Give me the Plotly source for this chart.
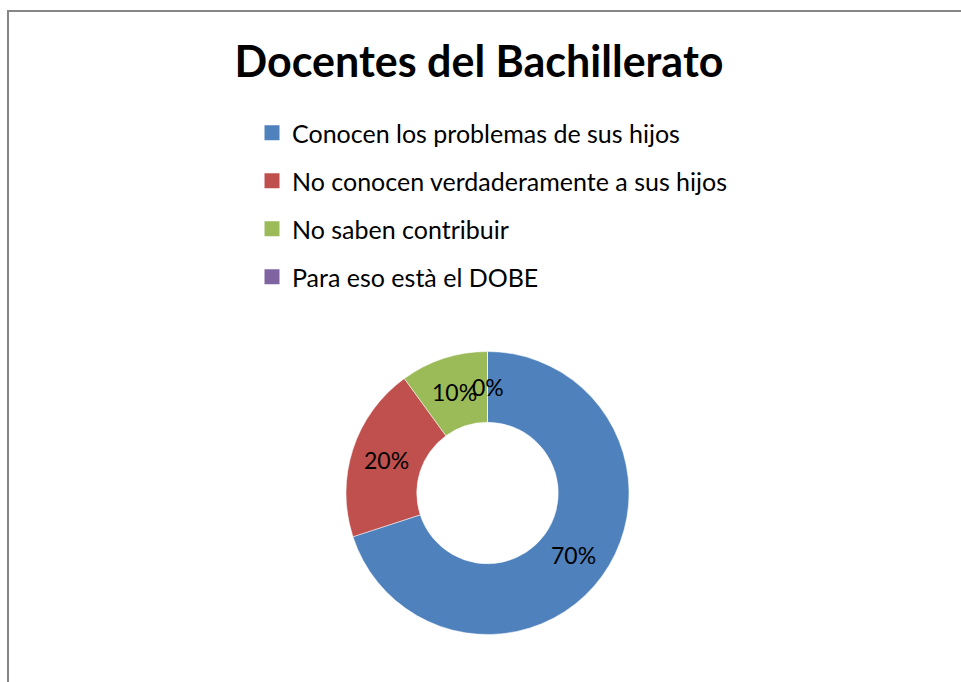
import math
import plotly.graph_objects as go

categories = [
    "Conocen los problemas de sus hijos",
    "No conocen verdaderamente a sus hijos",
    "No saben contribuir",
    "Para eso està el DOBE",
]
values = [70, 20, 10, 0]
colors = ["#4F81BD", "#C0504D", "#9BBB59", "#8064A2"]
title_text = "Docentes del Bachillerato"

W, H = 961, 682
CX, CY, R = 487.5, 493.0, 141.5  # pixel geometry of the donut
HOLE = 0.5
FONT = "Lato, 'Open Sans', sans-serif"

fig = go.Figure()

fig.add_trace(go.Pie(
    labels=categories,
    values=values,
    marker=dict(colors=colors, line=dict(color="white", width=0.5)),
    hole=HOLE,
    sort=False,
    direction="clockwise",
    rotation=0,
    textinfo="none",
    hoverinfo="label+percent",
    showlegend=False,
    domain=dict(x=[(CX - R) / W, (CX + R) / W],
                y=[(H - CY - R) / H, (H - CY + R) / H]),
))

# legend entries (square markers) via empty scatter traces
for i, (cat, col) in enumerate(zip(categories, colors)):
    fig.add_trace(go.Scatter(
        x=[None], y=[None], mode="markers", name=cat,
        marker=dict(symbol="square", size=15, color=col),
        legendgroup=f"g{i}", showlegend=True,
    ))

# percentage labels placed at the mid-ring of each slice
total = sum(values)
cum = 0.0
rlab = R * (1 + HOLE) / 2
for v in values:
    mid = (cum + v / 2) / total * 2 * math.pi
    cum += v
    px = CX + rlab * math.sin(mid)
    py = CY - rlab * math.cos(mid)
    fig.add_annotation(
        x=px / W, y=1 - py / H, xref="paper", yref="paper",
        text=f"{round(v / total * 100)}%", showarrow=False,
        font=dict(family=FONT, size=23, color="black"),
        xanchor="center", yanchor="middle",
    )

fig.add_shape(type="rect", xref="paper", yref="paper",
              x0=8 / W, x1=1.05, y0=-0.05, y1=1 - 11 / H,
              line=dict(color="#868686", width=2), fillcolor="rgba(0,0,0,0)")

fig.update_layout(
    width=W, height=H,
    margin=dict(l=0, r=0, t=0, b=0),
    paper_bgcolor="white", plot_bgcolor="white",
    title=dict(text=f"<b>{title_text}</b>", x=479 / W, xanchor="center",
               y=1 - 62 / H, yanchor="middle",
               font=dict(family=FONT, size=43, color="black")),
    xaxis=dict(visible=False), yaxis=dict(visible=False),
    legend=dict(x=252 / W, xanchor="left", y=1 - 110 / H, yanchor="top",
                font=dict(family=FONT, size=25, color="black"),
                tracegroupgap=12.5, itemsizing="trace",
                bgcolor="rgba(0,0,0,0)"),
)

fig.write_html("out.html", config={"displayModeBar": False},
               post_script="document.body.style.margin='0';")
